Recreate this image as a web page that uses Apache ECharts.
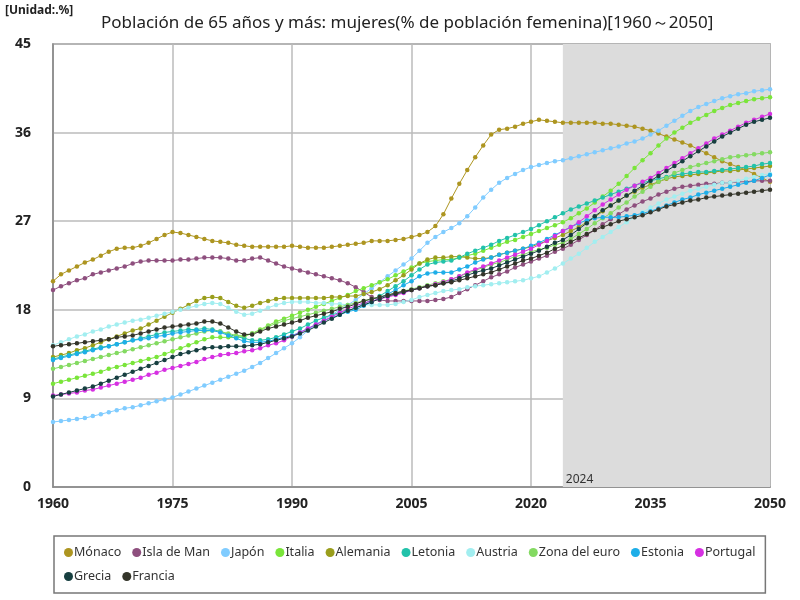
<!DOCTYPE html>
<html>
<head>
<meta charset="utf-8">
<script src="https://cdn.jsdelivr.net/npm/echarts@6/dist/echarts.min.js"></script>
<style>
  html, body { margin: 0; padding: 0; background: #fff; }
  #chart { width: 800px; height: 600px; }
</style>
</head>
<body>
<div id="chart"></div>
<script>
var years = [];
for (var y = 1960; y <= 2050; y++) { years.push(String(y)); }

var monaco = [20.9,21.6,22.0,22.4,22.8,23.1,23.5,23.9,24.2,24.3,
  24.3,24.5,24.8,25.2,25.6,25.9,25.8,25.6,25.4,25.2,
  25.0,24.9,24.8,24.6,24.5,24.4,24.4,24.4,24.4,24.4,
  24.5,24.4,24.3,24.3,24.3,24.4,24.5,24.6,24.7,24.8,
  25.0,25.0,25.0,25.1,25.2,25.4,25.6,25.9,26.5,27.7,
  29.3,30.8,32.2,33.5,34.7,35.8,36.3,36.4,36.6,36.9,
  37.1,37.3,37.2,37.1,37.0,37.0,37.0,37.0,37.0,36.9,
  36.9,36.8,36.7,36.6,36.4,36.2,35.9,35.6,35.3,35.0,
  34.7,34.3,33.9,33.5,33.1,32.8,32.5,32.2,31.8,31.4,31.0];
var islaDeMan = [20.0,20.4,20.7,21.0,21.2,21.6,21.8,22.0,22.2,22.4,
  22.7,22.9,23.0,23.0,23.0,23.0,23.1,23.1,23.2,23.3,
  23.3,23.3,23.2,23.0,23.0,23.2,23.3,23.0,22.7,22.4,
  22.2,22.0,21.8,21.6,21.4,21.2,21.0,20.7,20.3,19.8,
  19.3,19.0,18.9,18.9,18.9,18.9,18.9,18.9,19.0,19.1,
  19.3,19.7,20.1,20.5,20.9,21.3,21.6,21.9,22.3,22.6,
  22.9,23.2,23.5,23.9,24.2,24.6,25.1,25.6,26.1,26.7,
  27.2,27.7,28.2,28.6,29.0,29.3,29.7,30.0,30.3,30.5,
  30.6,30.7,30.8,30.8,30.9,30.9,31.0,31.0,31.1,31.1,31.1];
var japon = [6.6,6.7,6.8,6.9,7.0,7.2,7.4,7.6,7.8,8.0,
  8.1,8.3,8.5,8.7,8.9,9.1,9.4,9.7,10.0,10.3,
  10.6,10.9,11.2,11.5,11.8,12.2,12.6,13.1,13.6,14.1,
  14.6,15.2,15.9,16.5,17.0,17.5,18.0,18.5,19.0,19.6,
  20.2,20.8,21.4,22.0,22.6,23.2,24.0,24.8,25.4,25.9,
  26.3,26.8,27.5,28.4,29.4,30.2,30.9,31.4,31.8,32.2,
  32.5,32.7,32.9,33.1,33.2,33.4,33.6,33.8,34.0,34.2,
  34.4,34.6,34.9,35.1,35.4,35.8,36.2,36.7,37.2,37.7,
  38.2,38.6,38.9,39.2,39.5,39.7,39.9,40.0,40.2,40.3,40.4];
var italia = [10.5,10.7,10.9,11.1,11.3,11.5,11.7,12.0,12.2,12.4,
  12.6,12.8,13.0,13.2,13.5,13.8,14.1,14.4,14.7,15.0,
  15.2,15.2,15.2,15.2,15.3,15.6,16.0,16.4,16.8,17.1,
  17.4,17.7,18.0,18.3,18.6,18.9,19.2,19.5,19.9,20.2,
  20.5,20.8,21.1,21.5,21.9,22.3,22.7,22.9,23.0,23.1,
  23.1,23.3,23.5,23.7,24.0,24.3,24.6,24.9,25.1,25.4,
  25.7,26.0,26.3,26.6,26.9,27.3,27.8,28.3,28.9,29.5,
  30.1,30.8,31.6,32.4,33.2,33.9,34.7,35.4,36.0,36.5,
  37.0,37.4,37.8,38.2,38.5,38.8,39.0,39.2,39.4,39.5,39.6];
var alemania = [13.2,13.4,13.6,13.9,14.1,14.4,14.7,15.0,15.3,15.6,
  15.9,16.1,16.5,16.9,17.3,17.7,18.1,18.5,18.9,19.2,
  19.3,19.2,18.8,18.4,18.2,18.4,18.7,18.9,19.1,19.2,
  19.2,19.2,19.2,19.2,19.2,19.3,19.3,19.4,19.4,19.6,
  19.8,20.1,20.5,21.0,21.5,22.1,22.7,23.1,23.3,23.3,
  23.4,23.4,23.3,23.2,23.2,23.3,23.6,23.8,24.0,24.2,
  24.4,24.7,25.0,25.3,25.6,26.0,26.4,26.9,27.4,28.0,
  28.6,29.1,29.6,30.0,30.4,30.7,31.0,31.3,31.5,31.6,
  31.7,31.8,31.9,32.0,32.1,32.1,32.2,32.3,32.4,32.5,32.6];
var letonia = [13.0,13.2,13.4,13.6,13.8,14.0,14.2,14.3,14.5,14.7,
  14.9,15.1,15.3,15.5,15.7,15.8,15.9,16.0,16.0,16.1,
  16.0,15.8,15.5,15.3,15.1,14.9,14.9,15.0,15.2,15.5,
  15.8,16.1,16.5,16.9,17.2,17.5,17.7,17.9,18.2,18.6,
  19.0,19.4,19.9,20.4,20.9,21.5,22.1,22.6,22.8,22.9,
  23.0,23.3,23.7,24.0,24.3,24.6,25.0,25.3,25.6,25.9,
  26.2,26.6,27.0,27.4,27.8,28.2,28.5,28.8,29.1,29.4,
  29.7,30.0,30.3,30.6,30.9,31.1,31.3,31.5,31.7,31.8,
  31.9,32.0,32.0,32.1,32.2,32.3,32.4,32.5,32.6,32.8,32.9];
var austria = [14.4,14.7,15.0,15.3,15.5,15.8,16.0,16.3,16.5,16.7,
  16.9,17.0,17.2,17.4,17.6,17.8,18.0,18.2,18.4,18.6,
  18.7,18.6,18.2,17.8,17.5,17.6,17.9,18.2,18.5,18.7,
  18.8,18.8,18.8,18.7,18.7,18.6,18.6,18.5,18.5,18.5,
  18.5,18.5,18.5,18.6,18.8,19.0,19.3,19.5,19.7,19.9,
  20.0,20.1,20.3,20.4,20.5,20.6,20.7,20.8,20.9,21.0,
  21.2,21.4,21.8,22.2,22.7,23.2,23.7,24.3,24.9,25.4,
  25.9,26.4,26.9,27.4,27.9,28.4,28.8,29.2,29.5,29.8,
  30.1,30.3,30.5,30.7,30.9,30.9,31.1,31.3,31.5,31.7,31.8];
var zonaEuro = [12.0,12.2,12.4,12.6,12.8,13.0,13.2,13.4,13.6,13.8,
  14.0,14.2,14.4,14.6,14.8,15.0,15.2,15.4,15.6,15.8,
  15.9,15.8,15.6,15.4,15.4,15.6,15.9,16.3,16.6,16.9,
  17.1,17.3,17.5,17.7,17.9,18.1,18.3,18.5,18.7,18.9,
  19.1,19.3,19.5,19.7,19.9,20.1,20.3,20.5,20.7,20.9,
  21.1,21.4,21.7,22.0,22.3,22.6,22.8,23.1,23.4,23.6,
  23.9,24.1,24.3,24.6,24.8,25.2,25.7,26.2,26.8,27.3,
  27.8,28.4,28.9,29.5,30.0,30.5,31.0,31.4,31.9,32.2,
  32.5,32.7,32.9,33.1,33.3,33.5,33.6,33.7,33.8,33.9,34.0];
var estonia = [12.9,13.1,13.3,13.5,13.7,13.9,14.1,14.3,14.5,14.7,
  14.9,15.0,15.1,15.3,15.4,15.6,15.7,15.8,15.9,15.9,
  15.9,15.7,15.4,15.1,14.8,14.7,14.7,14.8,15.0,15.2,
  15.4,15.7,16.1,16.5,16.9,17.2,17.5,17.8,18.0,18.4,
  18.8,19.2,19.6,20.0,20.5,20.9,21.4,21.7,21.8,21.8,
  21.8,22.1,22.4,22.8,23.1,23.3,23.6,23.8,24.0,24.2,
  24.5,24.8,25.2,25.6,26.0,26.4,26.8,27.1,27.3,27.4,
  27.4,27.4,27.5,27.6,27.8,28.0,28.3,28.6,28.9,29.2,
  29.4,29.7,29.9,30.1,30.3,30.5,30.7,30.9,31.1,31.4,31.7];
var portugal = [9.3,9.4,9.5,9.6,9.8,9.9,10.1,10.3,10.5,10.7,
  10.9,11.1,11.4,11.6,11.9,12.1,12.3,12.5,12.7,13.0,
  13.2,13.4,13.5,13.6,13.8,13.9,14.1,14.4,14.6,14.9,
  15.3,15.7,16.1,16.5,16.9,17.3,17.7,18.1,18.4,18.7,
  18.9,19.1,19.3,19.5,19.7,20.0,20.2,20.4,20.6,20.8,
  21.1,21.4,21.8,22.1,22.4,22.7,23.0,23.3,23.6,23.9,
  24.2,24.6,25.0,25.5,26.0,26.4,26.9,27.5,28.1,28.7,
  29.2,29.7,30.2,30.6,31.0,31.4,31.9,32.4,32.9,33.4,
  33.9,34.4,34.9,35.4,35.8,36.2,36.6,37.0,37.3,37.6,37.9];
var grecia = [9.2,9.4,9.6,9.8,10.0,10.2,10.5,10.8,11.1,11.4,
  11.7,12.0,12.3,12.6,12.9,13.2,13.5,13.7,13.9,14.1,
  14.2,14.2,14.3,14.3,14.3,14.4,14.5,14.7,14.9,15.1,
  15.3,15.6,15.9,16.3,16.7,17.1,17.5,17.9,18.2,18.5,
  18.8,19.1,19.4,19.6,19.8,20.0,20.2,20.4,20.5,20.7,
  20.9,21.2,21.5,21.8,22.0,22.2,22.5,22.8,23.1,23.4,
  23.7,24.0,24.4,24.8,25.1,25.6,26.2,26.8,27.5,28.1,
  28.6,29.1,29.6,30.1,30.6,31.1,31.6,32.1,32.6,33.1,
  33.6,34.1,34.6,35.1,35.6,36.0,36.4,36.8,37.1,37.3,37.5];
var francia = [14.3,14.4,14.5,14.6,14.7,14.8,14.9,15.0,15.2,15.3,
  15.4,15.6,15.8,16.0,16.2,16.3,16.4,16.5,16.6,16.8,
  16.8,16.6,16.2,15.8,15.5,15.5,15.8,16.1,16.3,16.5,
  16.7,16.9,17.2,17.4,17.6,17.8,18.1,18.3,18.6,18.9,
  19.1,19.3,19.5,19.7,19.9,20.0,20.2,20.4,20.5,20.7,
  20.8,21.0,21.2,21.4,21.6,21.8,22.1,22.4,22.7,23.0,
  23.2,23.5,23.8,24.2,24.5,24.9,25.3,25.7,26.1,26.4,
  26.7,27.0,27.2,27.4,27.6,27.9,28.2,28.5,28.7,28.9,
  29.1,29.2,29.4,29.5,29.6,29.7,29.8,29.9,30.0,30.1,30.2];

var names = ["Mónaco", "Isla de Man", "Japón", "Italia", "Alemania", "Letonia",
  "Austria", "Zona del euro", "Estonia", "Portugal", "Grecia", "Francia"];
var values = [monaco, islaDeMan, japon, italia, alemania, letonia,
  austria, zonaEuro, estonia, portugal, grecia, francia];
var colors = ["#ad9520", "#8e4f7e", "#80ccff", "#7ae53a", "#9a9e1c", "#22c2aa",
  "#a2eef0", "#84da62", "#1eaee8", "#d630e2", "#173f40", "#34352a"];

var chart = echarts.init(document.getElementById("chart"));

var series = names.map(function (n, i) {
  var s = {
    name: n,
    type: "line",
    data: values[i],
    symbol: "circle",
    symbolSize: 4.5,
    lineStyle: { width: 1 },
    itemStyle: { color: colors[i] },
    emphasis: { disabled: true }
  };
  if (i === 0) {
    s.markArea = {
      silent: true,
      itemStyle: { color: "#dcdcdc" },
      label: {
        show: true, position: "insideBottomLeft", color: "#333",
        fontSize: 12, offset: [-2, 4]
      },
      data: [[{ xAxis: "2024", name: "2024" }, { xAxis: "2050" }]]
    };
  }
  return s;
});

chart.setOption({
  animation: false,
  textStyle: { fontFamily: "Noto Sans" },
  title: {
    text: "Población de 65 años y más: mujeres(% de población femenina)[1960～2050]",
    left: 96, top: 10,
    textStyle: { fontSize: 17, fontWeight: "normal", color: "#222" }
  },
  graphic: [{
    type: "text", left: 5, top: 5,
    style: { text: "[Unidad:.%]", font: "bold 12px Noto Sans", fill: "#222" }
  }],
  legend: {
    data: names,
    left: 54, top: 536, width: 710,
    padding: [10, 10, 10, 10],
    borderColor: "#777", borderWidth: 1.5,
    icon: "circle", itemWidth: 9, itemHeight: 9, itemGap: 11,
    textStyle: { fontSize: 12.5, color: "#333", padding: [0, 0, 0, -4] }
  },
  grid: { left: 53, right: 30, top: 44, bottom: 113, show: true, borderColor: "#888", borderWidth: 1.5 },
  xAxis: {
    type: "category",
    data: years,
    boundaryGap: false,
    axisLine: { lineStyle: { color: "#888", width: 1.5 } },
    axisTick: { show: false },
    axisLabel: { interval: 14, fontWeight: "bold", fontSize: 14, color: "#222", margin: 10 },
    splitLine: { show: true, interval: 14, lineStyle: { color: "#bbb", width: 1.5 } }
  },
  yAxis: {
    type: "value",
    min: 0, max: 45, interval: 9,
    axisLine: { show: true, lineStyle: { color: "#888", width: 1.5 } },
    axisLabel: { fontWeight: "bold", fontSize: 14, color: "#222", margin: 22 },
    splitLine: { lineStyle: { color: "#bbb", width: 1.5 } }
  },
  series: series
});
</script>
</body>
</html>
